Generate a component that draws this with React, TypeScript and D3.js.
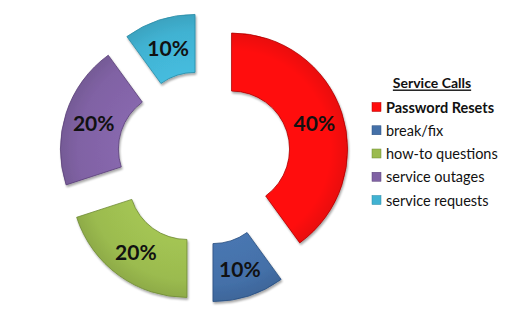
import React from "react";
import * as d3 from "d3";

const categories = ["Password Resets", "break/fix", "how-to questions", "service outages", "service requests"];
const values = [40, 10, 20, 20, 10];
const colors = ["#FF0C0C", "#4470A8", "#9BBB4F", "#8062A4", "#41B2D2"];
const edgeColors = ["#B00000", "#2A4F80", "#6E8A33", "#5A4079", "#2A8AA5"];
const boldFlags = [true, false, false, false, false];
const legendTitle = "Service Calls";

const W = 515;
const H = 317;
const cx = 204;
const cy = 158;
const outerR = 116;
const innerR = 58;
const explode = 29;

export default function App() {
  const pie = d3.pie<number>().sort(null).value((d) => d);
  const arcs = pie(values);
  const arcGen = d3.arc<d3.PieArcDatum<number>>().innerRadius(innerR).outerRadius(outerR);
  const total = d3.sum(values);
  const legendY = d3.scaleLinear().domain([0, categories.length - 1]).range([107, 200]);

  return (
    <svg width={W} height={H} style={{ position: "absolute", left: 0, top: 0, background: "#fff" }}>
      <defs>
        <filter id="sh" x="-20%" y="-20%" width="140%" height="140%">
          <feGaussianBlur in="SourceAlpha" stdDeviation="1.2" />
          <feOffset dx="1" dy="1.5" result="o" />
          <feComponentTransfer><feFuncA type="linear" slope="0.35" /></feComponentTransfer>
          <feMerge><feMergeNode /><feMergeNode in="SourceGraphic" /></feMerge>
        </filter>
        {colors.map((c, i) => (
          <radialGradient key={i} id={`g${i}`} cx="0" cy="0" r={outerR} gradientUnits="userSpaceOnUse">
            <stop offset={innerR / outerR} stopColor={d3.color(c)!.brighter(0.15).formatHex()} />
            <stop offset={0.85} stopColor={c} />
            <stop offset={1} stopColor={d3.color(c)!.darker(0.25).formatHex()} />
          </radialGradient>
        ))}
      </defs>
      <g transform={`translate(${cx},${cy})`}>
        {arcs.map((a, i) => {
          const mid = (a.startAngle + a.endAngle) / 2;
          const dx = Math.sin(mid) * explode;
          const dy = -Math.cos(mid) * explode;
          const [lx, ly] = arcGen.centroid(a);
          return (
            <g key={i} transform={`translate(${dx},${dy})`}>
              <path d={arcGen(a)!} fill={`url(#g${i})`} stroke={edgeColors[i]} strokeWidth={0.8} filter="url(#sh)" />
              <text
                x={lx}
                y={ly}
                textAnchor="middle"
                dominantBaseline="central"
                fontFamily="Lato, 'Open Sans', sans-serif"
                fontWeight="bold"
                fontSize={21}
                fill="#111"
              >
                {Math.round((values[i] / total) * 100)}%
              </text>
            </g>
          );
        })}
      </g>
      <g fontFamily="Lato, 'Open Sans', sans-serif" fontSize={14.5} fill="#111">
        <text x={432} y={82} textAnchor="middle" fontWeight="bold" fontSize={14} dominantBaseline="central" textDecoration="underline">
          {legendTitle}
        </text>
        {categories.map((c, i) => (
          <g key={c}>
            <rect x={372} y={legendY(i) - 4.5} width={9} height={9} fill={colors[i]} stroke={edgeColors[i]} strokeWidth={0.5} />
            <text x={386} y={legendY(i)} dominantBaseline="central" fontWeight={boldFlags[i] ? "bold" : "normal"}>
              {c}
            </text>
          </g>
        ))}
      </g>
    </svg>
  );
}
